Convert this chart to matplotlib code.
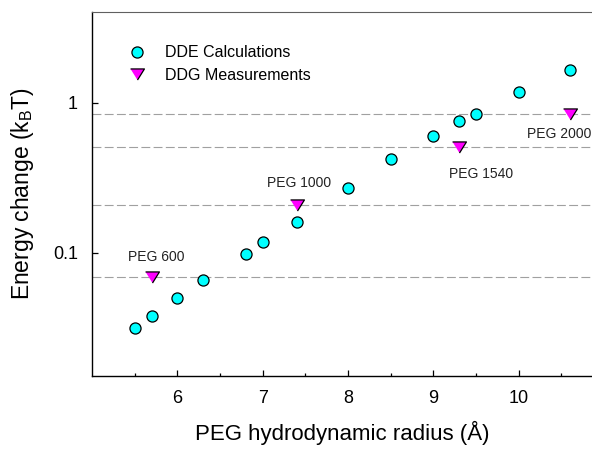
import numpy as np
import matplotlib
matplotlib.use('Agg')
import matplotlib.pyplot as plt
from matplotlib.ticker import FixedLocator, NullLocator, FixedFormatter

plt.rcParams['font.family'] = ['Liberation Sans', 'DejaVu Sans']

# ── Datos ────────────────────────────────────────────────────────────────────
# Cálculos (círculos)
radio_calc = [5.5, 5.7, 6.0, 6.3, 6.8, 7.0, 7.4, 8.0, 8.5, 9.0, 9.3, 9.5, 10.0, 10.6]
energia_calc = [0.0315, 0.038, 0.050, 0.066, 0.098, 0.118, 0.160, 0.269, 0.42,
                0.60, 0.75, 0.84, 1.17, 1.66]

# Mediciones (triángulos)
radio_med = [5.7, 7.4, 9.3, 10.6]
energia_med = [0.069, 0.208, 0.509, 0.837]
etiquetas_peg = ['PEG 600', 'PEG 1000', 'PEG 1540', 'PEG 2000']

# ── Figura ───────────────────────────────────────────────────────────────────
fig = plt.figure(figsize=(5.92, 4.49), dpi=100)
ax = fig.add_axes([92 / 592, 1 - 376 / 449, 500 / 592, 364 / 449])

ax.set_yscale('log')
ax.set_xlim(5.0, 10.86)
ax.set_ylim(0.015, 4.03)

# líneas de referencia en cada medición
for e in energia_med:
    ax.axhline(e, color='#a0a0a0', linestyle=(0, (8, 3)), linewidth=0.8, zorder=1)

ax.plot(radio_calc, energia_calc, linestyle='none', marker='o', markersize=8,
        markerfacecolor='#00ffff', markeredgecolor='black', markeredgewidth=0.9,
        label='DDE Calculations', zorder=3)

tri = [(-1, 0.8), (1, 0.8), (0, -0.8)]
ax.plot(radio_med, energia_med, linestyle='none', marker=tri, markersize=10,
        markerfacecolor='#ff00ff', markeredgecolor='black', markeredgewidth=0.9,
        label='DDG Measurements', zorder=4)

# etiquetas PEG (desplazamiento en puntos respecto al triángulo)
offsets = [(3, 14), (2, 16), (16, -20), (-8, -14)]
for xv, yv, txt, off in zip(radio_med, energia_med, etiquetas_peg, offsets):
    ax.annotate(txt, (xv, yv), xytext=off, textcoords='offset points',
                ha='center', va='center', fontsize=10, color='#222222')

# ejes y ticks
ax.xaxis.set_major_locator(FixedLocator([6, 7, 8, 9, 10]))
ax.xaxis.set_minor_locator(FixedLocator([5.5, 6.5, 7.5, 8.5, 9.5, 10.5]))
ax.yaxis.set_major_locator(FixedLocator([0.1, 1]))
ax.yaxis.set_major_formatter(FixedFormatter(['0.1', '1']))
ax.yaxis.set_minor_locator(NullLocator())
ax.tick_params(which='major', direction='in', length=4, width=0.9, labelsize=13, pad=10)
ax.tick_params(which='minor', direction='in', length=2, width=0.9)

ax.spines['right'].set_visible(False)
ax.spines['top'].set_color('#606060')
ax.spines['left'].set_linewidth(1.0)
ax.spines['bottom'].set_linewidth(1.0)

ax.set_xlabel('PEG hydrodynamic radius (Å)', fontsize=16, labelpad=10)
ax.set_ylabel('Energy change (k$_\\mathregular{B}$T)', fontsize=16.5, labelpad=12)

ax.legend(loc='upper left', bbox_to_anchor=(0.062, 0.926), frameon=False,
          fontsize=11.5, handletextpad=1.2, labelspacing=0.45, borderaxespad=0,
          handlelength=1.0)

plt.savefig('out.png', dpi=100)
